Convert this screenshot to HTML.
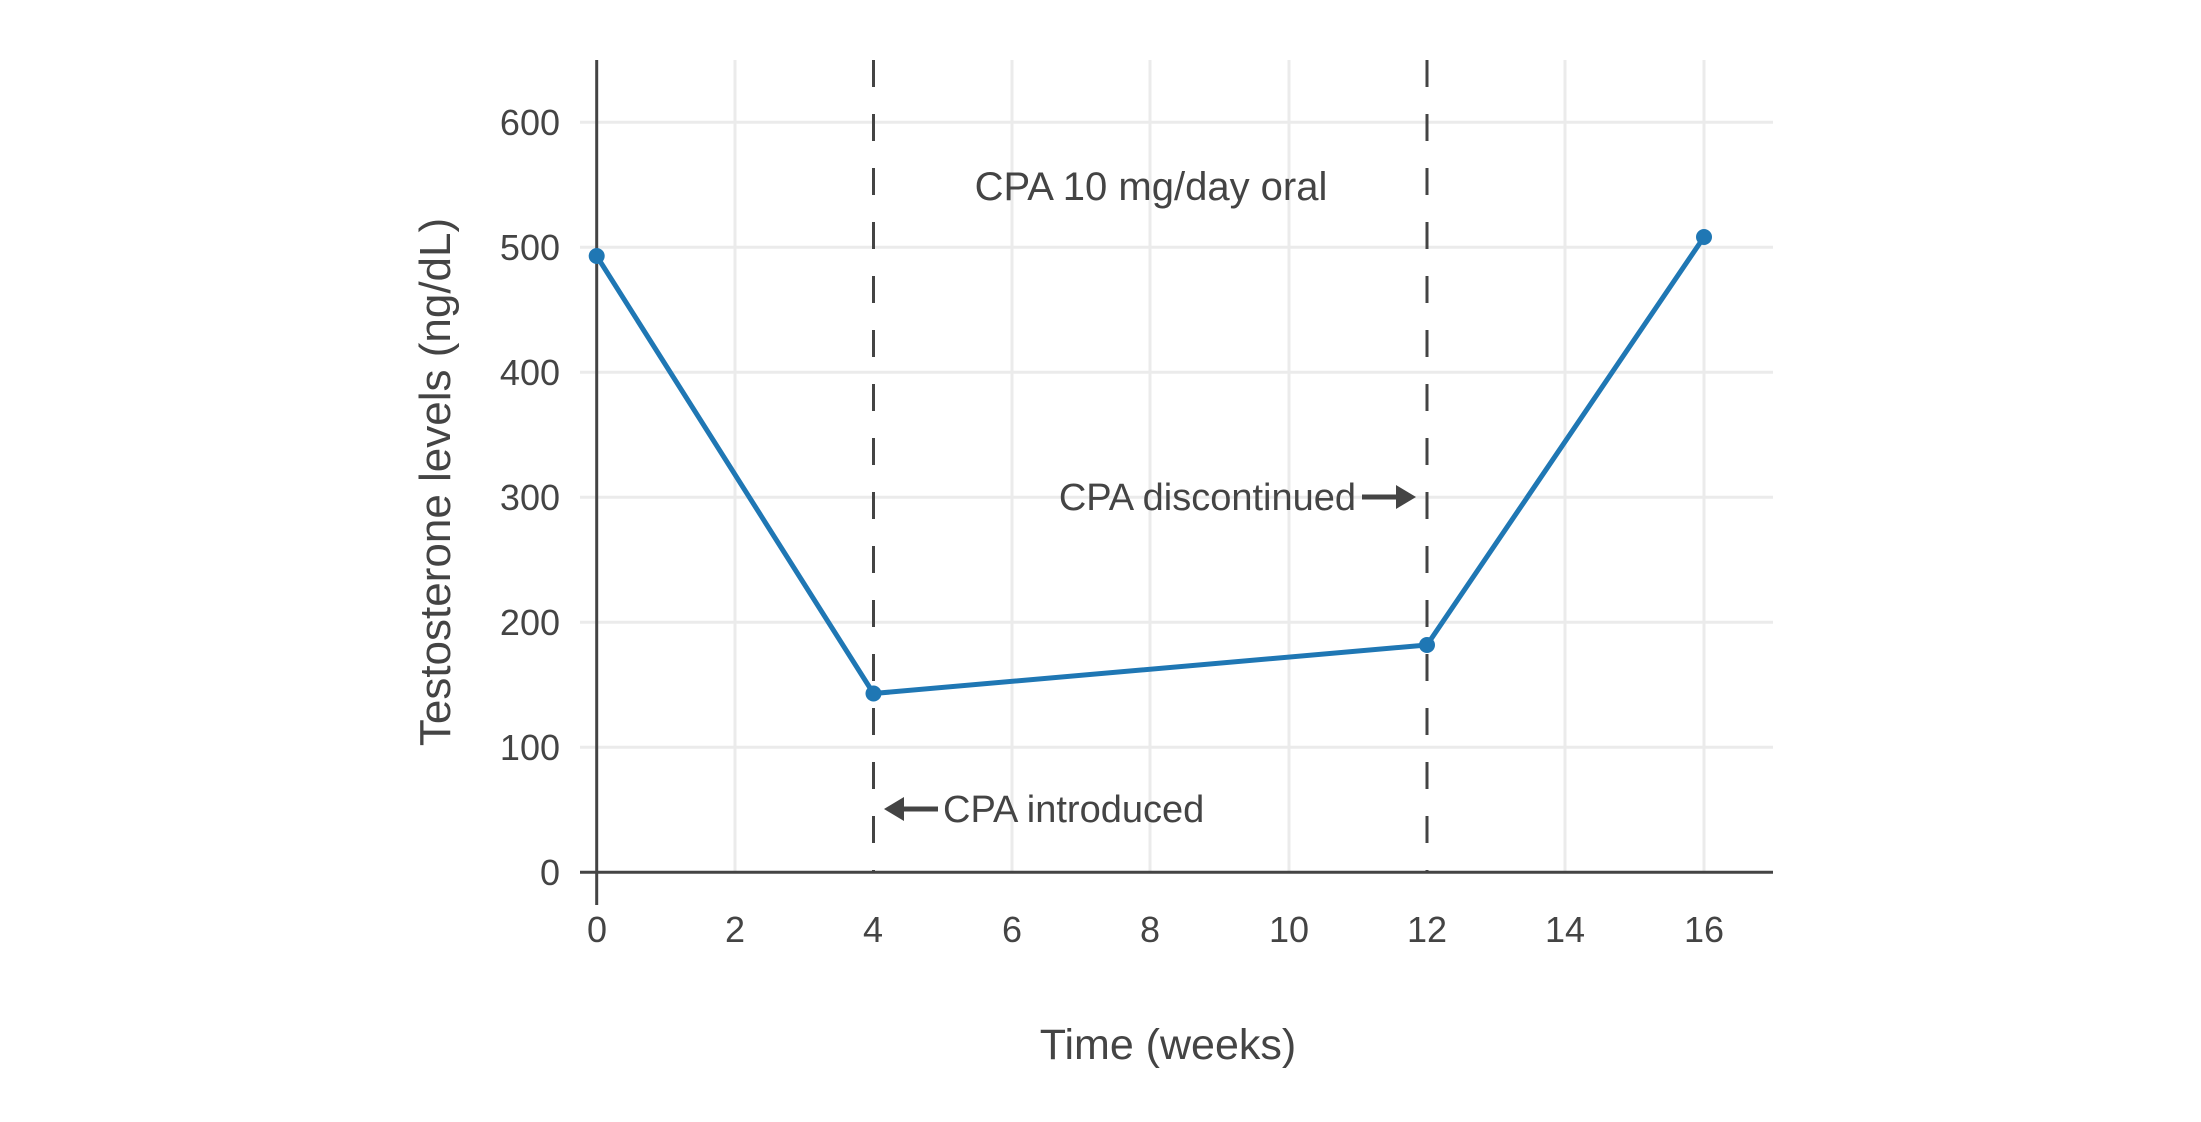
<!DOCTYPE html>
<html><head><style>body{margin:0;background:#fff}</style></head><body>
<svg width="2201" height="1117" viewBox="0 0 2201 1117" xmlns="http://www.w3.org/2000/svg" font-family="'Liberation Sans', 'DejaVu Sans', sans-serif" fill="#444">
<g stroke="#ebebeb" stroke-width="3">
<line x1="735" y1="60" x2="735" y2="872"/><line x1="1012" y1="60" x2="1012" y2="872"/><line x1="1150" y1="60" x2="1150" y2="872"/><line x1="1289" y1="60" x2="1289" y2="872"/><line x1="1565" y1="60" x2="1565" y2="872"/><line x1="1704" y1="60" x2="1704" y2="872"/>
<line x1="580" y1="122.3" x2="1773" y2="122.3"/><line x1="580" y1="247.3" x2="1773" y2="247.3"/><line x1="580" y1="372.3" x2="1773" y2="372.3"/><line x1="580" y1="497.3" x2="1773" y2="497.3"/><line x1="580" y1="622.3" x2="1773" y2="622.3"/><line x1="580" y1="747.3" x2="1773" y2="747.3"/>
</g>
<g stroke="#444" stroke-width="3">
<line x1="596.7" y1="60" x2="596.7" y2="905"/>
<line x1="580" y1="872.3" x2="1773" y2="872.3"/>
<line x1="873.5" y1="60" x2="873.5" y2="872" stroke-dasharray="27,27"/>
<line x1="1427" y1="60" x2="1427" y2="872" stroke-dasharray="27,27"/>
</g>
<polyline points="596.7,256 873.5,693.5 1427,645 1704,237" fill="none" stroke="#1f77b4" stroke-width="5"/>
<g fill="#1f77b4"><circle cx="596.7" cy="256" r="8"/><circle cx="873.5" cy="693.5" r="8"/><circle cx="1427" cy="645" r="8"/><circle cx="1704" cy="237" r="8"/></g>
<g font-size="36" text-anchor="end">
<text x="560" y="135">600</text><text x="560" y="260">500</text><text x="560" y="385">400</text><text x="560" y="510">300</text><text x="560" y="635">200</text><text x="560" y="760">100</text><text x="560" y="885">0</text>
</g>
<g font-size="36" text-anchor="middle">
<text x="597" y="942">0</text><text x="735" y="942">2</text><text x="873" y="942">4</text><text x="1012" y="942">6</text><text x="1150" y="942">8</text><text x="1289" y="942">10</text><text x="1427" y="942">12</text><text x="1565" y="942">14</text><text x="1704" y="942">16</text>
</g>
<text x="1168" y="1059" font-size="43" text-anchor="middle">Time (weeks)</text>
<text transform="translate(450,482) rotate(-90)" font-size="44" text-anchor="middle">Testosterone levels (ng/dL)</text>
<text x="1151" y="200" font-size="40" text-anchor="middle">CPA 10 mg/day oral</text>
<text x="1356" y="510" font-size="38" text-anchor="end">CPA discontinued</text>
<line x1="1362" y1="497" x2="1400" y2="497" stroke="#444" stroke-width="5"/>
<polygon points="1396,485 1416,497 1396,509" fill="#444"/>
<text x="943" y="822" font-size="38">CPA introduced</text>
<line x1="900" y1="809" x2="938" y2="809" stroke="#444" stroke-width="5"/>
<polygon points="904,797 884,809 904,821" fill="#444"/>
</svg>
</body></html>
